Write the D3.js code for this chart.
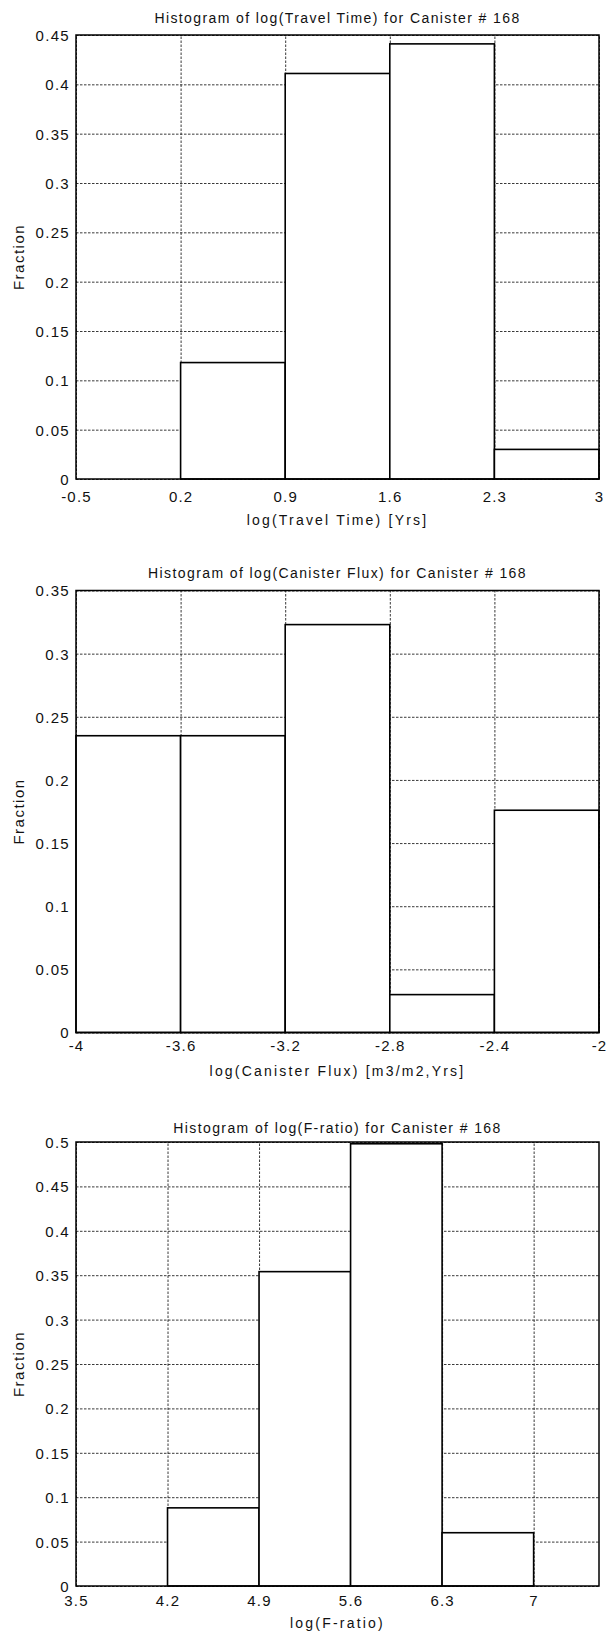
<!DOCTYPE html>
<html>
<head>
<meta charset="utf-8">
<script src="https://cdn.jsdelivr.net/npm/d3@7"></script>
<style>
  body { margin: 0; background: #fff; }
  text { font-family: "Liberation Sans", Arial, Helvetica, sans-serif; fill: #111; }
</style>
</head>
<body>
<div id="chartArea"></div>
<script>
// data: bin edges + fraction per bin
const travelEdges = [-0.5, 0.2, 0.9, 1.6, 2.3, 3.0];
const travelFrac = [0.0, 0.118, 0.411, 0.441, 0.030];
const travelXTicks = [-0.5, 0.2, 0.9, 1.6, 2.3, 3];
const travelYTicks = [0, 0.05, 0.1, 0.15, 0.2, 0.25, 0.3, 0.35, 0.4, 0.45];

const fluxEdges = [-4.0, -3.6, -3.2, -2.8, -2.4, -2.0];
const fluxFrac = [0.235, 0.235, 0.323, 0.030, 0.176];
const fluxXTicks = [-4, -3.6, -3.2, -2.8, -2.4, -2];
const fluxYTicks = [0, 0.05, 0.1, 0.15, 0.2, 0.25, 0.3, 0.35];

const fratioEdges = [3.5, 4.2, 4.9, 5.6, 6.3, 7.0, 7.5];
const fratioFrac = [0.0, 0.088, 0.354, 0.498, 0.060, 0.0];
const fratioXTicks = [3.5, 4.2, 4.9, 5.6, 6.3, 7];
const fratioYTicks = [0, 0.05, 0.1, 0.15, 0.2, 0.25, 0.3, 0.35, 0.4, 0.45, 0.5];

const titles = [
  "Histogram of log(Travel Time) for Canister # 168",
  "Histogram of log(Canister Flux) for Canister # 168",
  "Histogram of log(F-ratio) for Canister # 168"
];
const xLabels = ["log(Travel Time) [Yrs]", "log(Canister Flux) [m3/m2,Yrs]", "log(F-ratio)"];

const W = 607, H = 1639;
const left = 76, right = 599;

const svg = d3.select("#chartArea").append("svg")
  .attr("width", W)
  .attr("height", H);
svg.append("rect").attr("width", W).attr("height", H).attr("fill", "#fff");

// layout of each panel (pixels)
const panels = [
  {edges: travelEdges, frac: travelFrac, xt: travelXTicks, yt: travelYTicks, xdom: [-0.5, 3], ymax: 0.45,
   top: 35, bottom: 479, titleY: 23, tickY: 502, labelY: 525},
  {edges: fluxEdges, frac: fluxFrac, xt: fluxXTicks, yt: fluxYTicks, xdom: [-4, -2], ymax: 0.35,
   top: 590.5, bottom: 1032.5, titleY: 578, tickY: 1051, labelY: 1076},
  {edges: fratioEdges, frac: fratioFrac, xt: fratioXTicks, yt: fratioYTicks, xdom: [3.5, 7.5], ymax: 0.5,
   top: 1142, bottom: 1586, titleY: 1133, tickY: 1606, labelY: 1628}
];

const fmt = d => String(d);  // plain hyphen minus like the original

panels.forEach((p, k) => {
  const x = d3.scaleLinear().domain(p.xdom).range([left, right]);
  const y = d3.scaleLinear().domain([0, p.ymax]).range([p.bottom, p.top]);
  const g = svg.append("g");

  // dotted grid
  const gx = g.append("g")
    .attr("transform", `translate(0,${p.bottom})`)
    .call(d3.axisBottom(x).tickValues(p.xt).tickSize(-(p.bottom - p.top)).tickFormat(""));
  const gy = g.append("g")
    .attr("transform", `translate(${left},0)`)
    .call(d3.axisLeft(y).tickValues(p.yt).tickSize(-(right - left)).tickFormat(""));
  [gx, gy].forEach(a => {
    a.select(".domain").remove();
    a.selectAll("line")
      .attr("stroke", "#222")
      .attr("stroke-width", 0.9)
      .attr("stroke-dasharray", "2.5,1.5");
  });

  // bars
  g.selectAll("rect.bar")
    .data(p.frac)
    .enter()
    .append("rect")
      .attr("class", "bar")
      .attr("x", (d, i) => x(p.edges[i]))
      .attr("y", d => y(d))
      .attr("width", (d, i) => x(p.edges[i + 1]) - x(p.edges[i]))
      .attr("height", d => p.bottom - y(d))
      .attr("fill", "#fff")
      .attr("stroke", "#000")
      .attr("stroke-width", 1.6);

  // axes box
  g.append("rect")
    .attr("x", left).attr("y", p.top)
    .attr("width", right - left).attr("height", p.bottom - p.top)
    .attr("fill", "none")
    .attr("stroke", "#000")
    .attr("stroke-width", 1.5);

  // tick labels
  const ax = g.append("g")
    .attr("transform", `translate(0,${p.bottom})`)
    .call(d3.axisBottom(x).tickValues(p.xt).tickSize(0).tickFormat(fmt));
  ax.select(".domain").remove();
  ax.selectAll("text")
    .attr("y", p.tickY - p.bottom)
    .attr("dy", 0)
    .attr("font-size", "15px")
    .attr("letter-spacing", "1.2px")
    .attr("font-family", "Liberation Sans, Arial, sans-serif");

  const ay = g.append("g")
    .attr("transform", `translate(${left},0)`)
    .call(d3.axisLeft(y).tickValues(p.yt).tickSize(0).tickPadding(6).tickFormat(fmt));
  ay.select(".domain").remove();
  ay.selectAll("text")
    .attr("dy", "0.36em")
    .attr("font-size", "15px")
    .attr("letter-spacing", "1.3px")
    .attr("font-family", "Liberation Sans, Arial, sans-serif");

  // title, axis labels
  g.append("text")
    .attr("x", (left + right) / 2)
    .attr("y", p.titleY)
    .attr("text-anchor", "middle")
    .attr("font-size", "14px")
    .attr("letter-spacing", "1.4px")
    .text(titles[k]);

  g.append("text")
    .attr("x", (left + right) / 2)
    .attr("y", p.labelY)
    .attr("text-anchor", "middle")
    .attr("font-size", "14px")
    .attr("letter-spacing", "2.2px")
    .text(xLabels[k]);

  g.append("text")
    .attr("transform", `translate(24,${(p.top + p.bottom) / 2}) rotate(-90)`)
    .attr("text-anchor", "middle")
    .attr("font-size", "15px")
    .attr("letter-spacing", "1.5px")
    .text("Fraction");
});
</script>
</body>
</html>
